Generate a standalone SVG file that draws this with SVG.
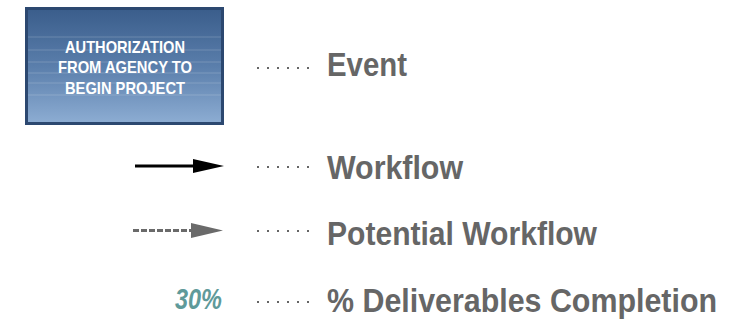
<svg xmlns="http://www.w3.org/2000/svg" width="739" height="320" viewBox="0 0 739 320">
  <style>
    .lbl { font-family: "Liberation Sans", Arial, sans-serif; font-weight: bold; font-size: 33.5px; fill: #666666; }
    .box-txt { font-family: "Liberation Sans", Arial, sans-serif; font-weight: bold; font-size: 17px; fill: #ffffff; text-anchor: middle; }
    .dot { fill: #333333; }
    .tex { stroke: #ffffff; stroke-width: 1; opacity: 0.18; }
  </style>
  <defs>
    <linearGradient id="boxGrad" x1="0" y1="0" x2="0" y2="1">
      <stop offset="0" stop-color="#3a5d8b"/>
      <stop offset="0.5" stop-color="#5a7eab"/>
      <stop offset="1" stop-color="#8dadd3"/>
    </linearGradient>
    <g id="dots">
      <circle class="dot" cx="258" cy="0" r="1"/>
      <circle class="dot" cx="268" cy="0" r="1"/>
      <circle class="dot" cx="278" cy="0" r="1"/>
      <circle class="dot" cx="288" cy="0" r="1"/>
      <circle class="dot" cx="298" cy="0" r="1"/>
      <circle class="dot" cx="308" cy="0" r="1"/>
    </g>
  </defs>
  <rect width="739" height="320" fill="#ffffff"/>

  <g id="event-node">
    <rect x="26.5" y="8.5" width="196" height="115" fill="url(#boxGrad)" stroke="#2c4870" stroke-width="3"/>
    <line class="tex" x1="28" y1="37" x2="221" y2="37"/>
    <line class="tex" x1="28" y1="50" x2="221" y2="50"/>
    <line class="tex" x1="28" y1="62" x2="221" y2="62"/>
    <line class="tex" x1="28" y1="73" x2="221" y2="73"/>
    <line class="tex" x1="28" y1="83" x2="221" y2="83"/>
    <line class="tex" x1="28" y1="95" x2="221" y2="95"/>
    <text class="box-txt" x="125" y="52.5" textLength="120" lengthAdjust="spacingAndGlyphs">AUTHORIZATION</text>
    <text class="box-txt" x="125" y="72.5" textLength="134" lengthAdjust="spacingAndGlyphs">FROM AGENCY TO</text>
    <text class="box-txt" x="125" y="93.5" textLength="120" lengthAdjust="spacingAndGlyphs">BEGIN PROJECT</text>
  </g>

  <g id="connectors">
    <line x1="135" y1="166" x2="195" y2="166" stroke="#000000" stroke-width="3"/>
    <polygon points="193,159 224,166 193,173" fill="#000000"/>
    <line x1="133" y1="230.5" x2="192" y2="230.5" stroke="#6a6a6a" stroke-width="3" stroke-dasharray="6,2"/>
    <polygon points="191,223 223,230.5 191,238" fill="#6a6a6a"/>
  </g>

  <g id="legend-dots">
    <use href="#dots" y="68"/>
    <use href="#dots" y="167"/>
    <use href="#dots" y="231"/>
    <use href="#dots" y="302"/>
  </g>

  <g id="legend-labels">
    <text class="lbl" x="327" y="75.5" textLength="80" lengthAdjust="spacingAndGlyphs">Event</text>
    <text class="lbl" x="327" y="178.5" textLength="136" lengthAdjust="spacingAndGlyphs">Workflow</text>
    <text class="lbl" x="327" y="244.5" textLength="270" lengthAdjust="spacingAndGlyphs">Potential Workflow</text>
    <text class="lbl" x="327" y="311.5" textLength="390" lengthAdjust="spacingAndGlyphs">% Deliverables Completion</text>
  </g>

  <g id="percent-sample">
    <text x="175" y="309" font-family="'Liberation Sans', Arial, sans-serif" font-weight="bold" font-style="italic" font-size="29" fill="#5f9a9a" textLength="47" lengthAdjust="spacingAndGlyphs">30%</text>
  </g>
</svg>
